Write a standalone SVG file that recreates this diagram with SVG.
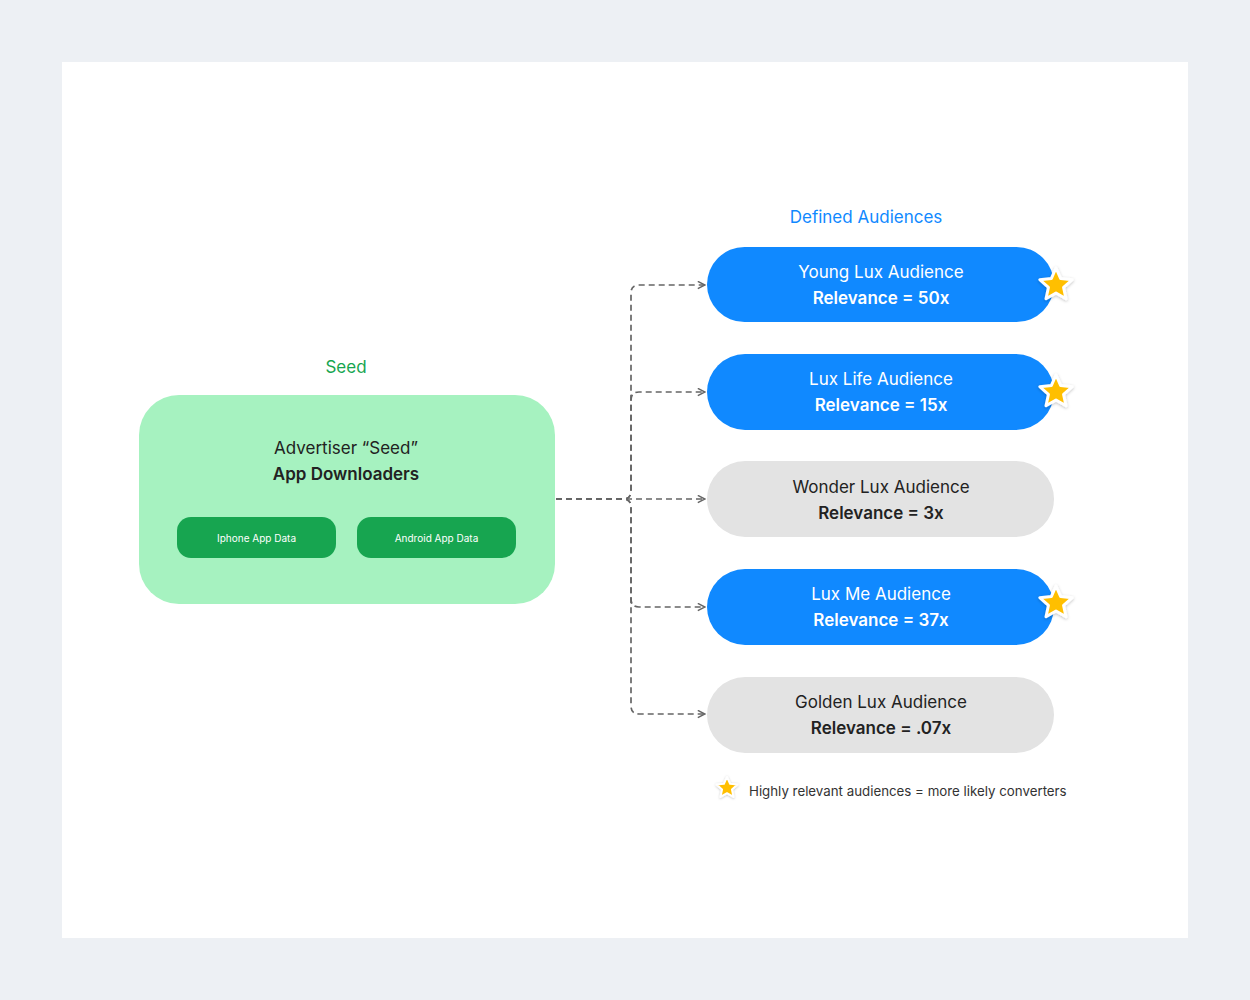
<svg xmlns="http://www.w3.org/2000/svg" width="1250" height="1000" viewBox="0 0 1250 1000">
<style>
text{font-family:Inter,"Noto Sans","Liberation Sans",sans-serif;text-anchor:middle}
.lbl{font-size:17px}
.b{font-weight:600}
.blue{fill:#1089ff}
.gray{fill:#e3e3e3}
.wt{fill:#ffffff}
.dk{fill:#222222}
.conn{fill:none;stroke:#666666;stroke-width:1.7;stroke-dasharray:6 4}
.pill{fill:#17a550}
.star{fill:#ffbf00;stroke:#ffffff;stroke-width:3;stroke-linejoin:round}
</style>
<defs>
<marker id="arr" viewBox="0 0 10 10" refX="9" refY="5" markerWidth="9" markerHeight="9" markerUnits="userSpaceOnUse" orient="auto">
<path d="M1,1 L9,5 L1,9" fill="none" stroke="#666666" stroke-width="1.7"/>
</marker>
<filter id="sh" x="-50%" y="-50%" width="200%" height="200%">
<feDropShadow dx="0" dy="1" stdDeviation="1.5" flood-color="#000" flood-opacity="0.25"/>
</filter>
<polygon id="starShape" points="0,-17 4.7,-6.45 16.17,-5.25 7.58,2.46 9.99,13.75 0,7.97 -9.99,13.75 -7.58,2.46 -16.17,-5.25 -4.7,-6.45"/>
</defs>
<rect width="1250" height="1000" fill="#edf0f4"/>
<rect x="62" y="62" width="1126" height="876" fill="#ffffff"/>

<g id="seed">
<text x="346" y="373" class="lbl" fill="#17a550">Seed</text>
<rect x="139" y="395" width="416" height="209" rx="40" fill="#a6f2c0"/>
<text x="346" y="454" class="lbl dk">Advertiser “Seed”</text>
<text x="346" y="480" class="lbl b dk">App Downloaders</text>
</g>
<g id="iphone">
<rect x="177" y="517" width="159" height="41" rx="14" class="pill"/>
<text x="256.5" y="541.5" font-size="10" class="wt">Iphone App Data</text>
</g>
<g id="android">
<rect x="357" y="517" width="159" height="41" rx="14" class="pill"/>
<text x="436.5" y="541.5" font-size="10" class="wt">Android App Data</text>
</g>

<text x="866" y="223" class="lbl" fill="#1089ff">Defined Audiences</text>

<g id="connectors">
<path class="conn" d="M556,499 H623 Q631,499 631,491 V293 Q631,285 639,285 H705" marker-end="url(#arr)"/>
<path class="conn" d="M556,499 H623 Q631,499 631,491 V400 Q631,392 639,392 H705" marker-end="url(#arr)"/>
<path class="conn" d="M556,499 H705" marker-end="url(#arr)"/>
<path class="conn" d="M556,499 H623 Q631,499 631,507 V599 Q631,607 639,607 H705" marker-end="url(#arr)"/>
<path class="conn" d="M556,499 H623 Q631,499 631,507 V706 Q631,714 639,714 H705" marker-end="url(#arr)"/>
</g>

<g id="young">
<rect x="707" y="247" width="347" height="75" rx="37.5" class="blue"/>
<text x="881" y="278" class="lbl wt">Young Lux Audience</text>
<text x="881" y="304" class="lbl b wt">Relevance = 50x</text>
<use href="#starShape" x="1056" y="285" class="star" filter="url(#sh)"/>
</g>
<g id="luxlife">
<rect x="707" y="354" width="347" height="76" rx="38" class="blue"/>
<text x="881" y="385" class="lbl wt">Lux Life Audience</text>
<text x="881" y="411" class="lbl b wt">Relevance = 15x</text>
<use href="#starShape" x="1056" y="392" class="star" filter="url(#sh)"/>
</g>
<g id="wonder">
<rect x="707" y="461" width="347" height="76" rx="38" class="gray"/>
<text x="881" y="493" class="lbl dk">Wonder Lux Audience</text>
<text x="881" y="519" class="lbl b dk">Relevance = 3x</text>
</g>
<g id="luxme">
<rect x="707" y="569" width="347" height="76" rx="38" class="blue"/>
<text x="881" y="600" class="lbl wt">Lux Me Audience</text>
<text x="881" y="626" class="lbl b wt">Relevance = 37x</text>
<use href="#starShape" x="1056" y="603" class="star" filter="url(#sh)"/>
</g>
<g id="golden">
<rect x="707" y="677" width="347" height="76" rx="38" class="gray"/>
<text x="881" y="708" class="lbl dk">Golden Lux Audience</text>
<text x="881" y="734" class="lbl b dk">Relevance = .07x</text>
</g>

<g id="legend">
<g transform="translate(727,788) scale(0.65)"><use href="#starShape" class="star" filter="url(#sh)"/></g>
<text x="749" y="796" font-size="13.3" fill="#333333" style="text-anchor:start">Highly relevant audiences = more likely converters</text>
</g>
</svg>
